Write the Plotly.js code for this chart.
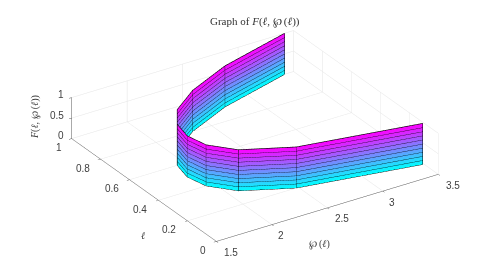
<!DOCTYPE html>
<html><head><meta charset="utf-8">
<script src="https://cdn.plot.ly/plotly-3.0.1.min.js"></script>
<style>html,body{margin:0;padding:0;background:#fff}#c{width:500px;height:263px}</style>
</head><body><div id="c"></div>
<script>
const ells = [0.1,0.2,0.3,0.4,0.5,0.6,0.7,0.8,0.9,1.0];
const wp = [3.49,2.48,2.09,1.93,1.89,1.93,2.06,2.33,2.75,3.42];
const levels = [0,0.1,0.2,0.3,0.4,0.5,0.6,0.7,0.8,0.9,1];
const wpTicks = [1.5,2,2.5,3,3.5];
const ellTicks = [0,0.2,0.4,0.6,0.8,1];
const zTicks = [0,0.5,1];
const cool = [[0,'#00ffff'],[1,'#ff00ff']];
const X = levels.map(()=>wp), Y = levels.map(()=>ells), Z = levels.map(l=>ells.map(()=>l));
const traces = [{
  type:'surface',x:X,y:Y,z:Z,surfacecolor:Z,colorscale:cool,cmin:0,cmax:1,showscale:false,
  lighting:{ambient:1,diffuse:0,specular:0,roughness:1,fresnel:0},
  hoverinfo:'skip'
}];
const lineStyle={color:'#000',width:1.3};
levels.forEach(l=>traces.push({type:'scatter3d',mode:'lines',x:wp,y:ells,z:ells.map(()=>l),line:lineStyle,hoverinfo:'skip',showlegend:false}));
ells.forEach((e,i)=>traces.push({type:'scatter3d',mode:'lines',x:[wp[i],wp[i]],y:[e,e],z:[0,1],line:lineStyle,hoverinfo:'skip',showlegend:false}));
const ax = (range,dtick)=>({range,dtick,showbackground:false,showgrid:true,gridcolor:'#e4e4e4',gridwidth:1,
  showline:true,linecolor:'#555',linewidth:1,zeroline:false,ticks:'outside',ticklen:3,tickcolor:'#555',
  showticklabels:false,title:{text:''},showspikes:false});
const serif='Liberation Serif, DejaVu Serif';
const tickFont={family:'Liberation Sans',size:10,color:'#404040'};
const sa=[];
wpTicks.forEach(t=>sa.push({x:t,y:0,z:0,text:String(t),showarrow:false,font:tickFont,xshift:Number.isInteger(t)?9:15,yshift:-11}));
ellTicks.forEach(t=>sa.push({x:1.5,y:t,z:0,text:String(t),showarrow:false,font:tickFont,xshift:Number.isInteger(t)?-13:-18,yshift:-9}));
zTicks.forEach(t=>sa.push({x:1.5,y:1,z:t,text:String(t),showarrow:false,font:tickFont,xshift:Number.isInteger(t)?-11:-15,yshift:3}));
const paperNote=(px,py,text,size,color,angle)=>({xref:'paper',yref:'paper',x:px/500,y:1-py/263,xanchor:'center',yanchor:'middle',text,showarrow:false,textangle:angle||0,font:{family:serif,size,color}});
const layout = {width:500,height:263,margin:{l:0,r:0,t:0,b:0},paper_bgcolor:'#fff',showlegend:false,
  scene:{domain:{x:[0,1],y:[0,1]},
    xaxis:ax([1.5,3.5],0.5),yaxis:ax([0,1],0.2),zaxis:ax([0,1],0.5),
    aspectmode:'manual',aspectratio:{x:2.015,y:2.015,z:0.352},
    annotations:sa,
    camera:{projection:{type:'orthographic'},up:{x:0,y:0,z:1},center:{x:-0.023,y:0.034,z:0.03},eye:{x:-0.991,y:-1.45,z:0.956}}},
  annotations:[
   paperNote(255,21,'Graph of <i>F</i>(<i>ℓ</i>, ℘\u2009(<i>ℓ</i>))',11,'#333'),
   paperNote(35,117,'<i>F</i>(<i>ℓ</i>, ℘\u2009(<i>ℓ</i>))',10,'#404040',-90),
   paperNote(143,235,'<i>ℓ</i>',10,'#404040'),
   paperNote(319,244,'℘\u2009(<i>ℓ</i>)',10,'#404040')
  ]};
Plotly.newPlot('c',traces,layout,{displayModeBar:false});
</script></body></html>
